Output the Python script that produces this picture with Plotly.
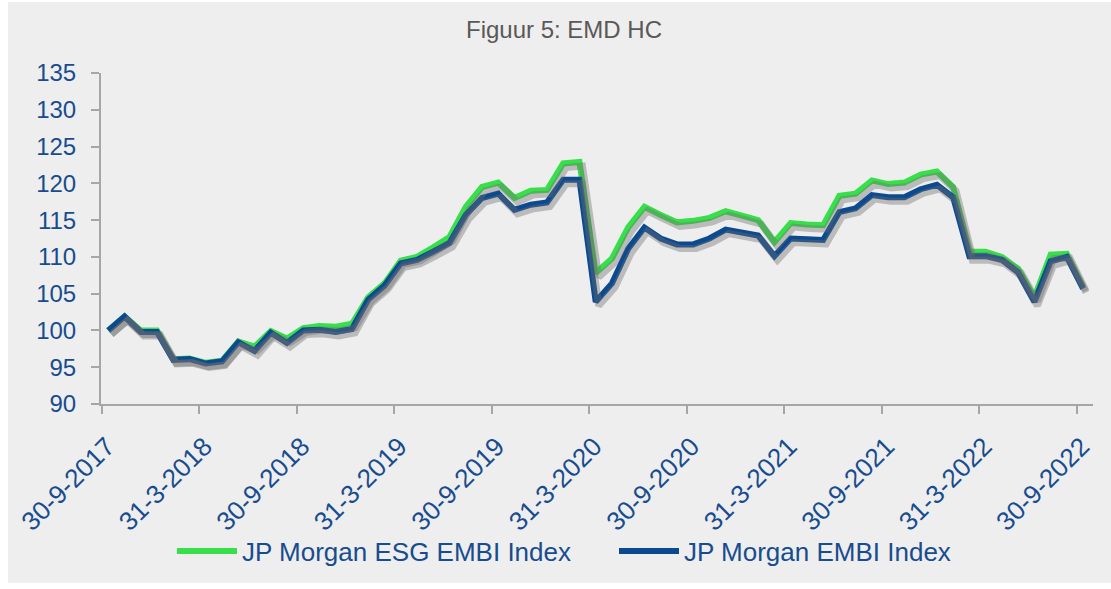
import plotly.graph_objects as go
import pandas as pd

# ---- data ----
dates = pd.date_range("2017-09-30", "2022-09-30", freq="ME")
esg_embi = [100.0, 101.9, 100.0, 100.0, 96.1, 96.2, 95.6, 95.9, 98.5, 97.8, 99.9, 98.9, 100.3, 100.6, 100.5,
            100.9, 104.5, 106.4, 109.5, 110.0, 111.3, 112.7, 116.8, 119.5, 120.1, 118.0, 119.0, 119.1, 122.7, 122.9,
            107.8, 109.8, 114.0, 116.8, 115.7, 114.7, 114.9, 115.3, 116.2, 115.7, 115.0, 112.0, 114.6, 114.4, 114.3,
            118.3, 118.6, 120.4, 119.9, 120.1, 121.2, 121.6, 119.5, 110.7, 110.7, 110.0, 108.4, 104.5, 110.3, 110.4, 105.9]
embi = [100.0, 101.9, 99.8, 99.8, 96.0, 96.1, 95.5, 95.8, 98.4, 97.2, 99.7, 98.3, 100.0, 100.1, 99.8,
        100.2, 104.2, 106.1, 109.1, 109.6, 110.7, 111.9, 115.7, 118.0, 118.6, 116.4, 117.1, 117.4, 120.5, 120.5,
        103.9, 106.4, 111.1, 114.0, 112.5, 111.7, 111.7, 112.5, 113.7, 113.4, 112.9, 110.1, 112.5, 112.4, 112.3,
        116.1, 116.6, 118.4, 118.1, 118.1, 119.2, 119.8, 118.1, 110.1, 110.1, 109.6, 107.9, 103.9, 109.4, 110.0, 105.7]
tick_labels = ["30-9-2017", "31-3-2018", "30-9-2018", "31-3-2019", "30-9-2019", "31-3-2020",
               "30-9-2020", "31-3-2021", "30-9-2021", "31-3-2022", "30-9-2022"]
series_names = ["JP Morgan ESG EMBI Index", "JP Morgan EMBI Index"]

# ---- layout constants ----
W, H = 1103, 581
L, R, T, B = 93, 18, 71, 179
GREEN = "#37E04A"
BLUE = "#0B4A90"
TXT = "#174C8E"
AXIS = "#A6A6A6"
BG = "#EEEEEE"

label_strs = [f"{d.day}-{d.month}-{d.year}" for d in dates]
xpos = [i + 0.39 for i in range(len(dates))]
tickvals = [label_strs.index(t) for t in tick_labels]

xr = [-0.06, 61.0]
yr = [90, 135]
plot_w = W - L - R
plot_h = H - T - B
px_x = (xr[1] - xr[0]) / plot_w
px_y = (yr[1] - yr[0]) / plot_h
sdx, sdy = 3, 4  # shadow offset in px

fig = go.Figure()
# soft shadows under the lines
for vals in (esg_embi, embi):
    fig.add_trace(go.Scatter(x=xpos, y=vals, mode="lines", xaxis="x2", yaxis="y2",
                             line=dict(color="rgba(110,110,110,0.40)", width=7),
                             showlegend=False, hoverinfo="skip"))
fig.add_trace(go.Scatter(x=xpos, y=esg_embi, mode="lines", name=series_names[0],
                         line=dict(color=GREEN, width=6)))
fig.add_trace(go.Scatter(x=xpos, y=embi, mode="lines", name=series_names[1],
                         line=dict(color=BLUE, width=6)))

font_main = "Liberation Sans, Arial, sans-serif"
legend_left = 164
fig.update_layout(
    width=W, height=H,
    margin=dict(l=L, r=R, t=T, b=B, autoexpand=False),
    paper_bgcolor=BG, plot_bgcolor=BG,
    font=dict(family=font_main, color=TXT),
    title=dict(text="Figuur 5: EMD HC", x=556 / W, xanchor="center", y=1 - 28 / H, yanchor="middle",
               font=dict(size=24, color="#595959", family=font_main)),
    xaxis=dict(range=xr, tickmode="array", tickvals=tickvals, ticktext=tick_labels,
               tickangle=-45, tickfont=dict(size=26, color=TXT), automargin=False,
               showgrid=False, zeroline=False, showline=True, linecolor=AXIS, linewidth=2,
               ticks="outside", ticklen=8, tickcolor=AXIS, tickwidth=2,
               ticklabelstandoff=7, ticklabelshift=5),
    yaxis=dict(range=yr, dtick=5, tickfont=dict(size=24, color=TXT), automargin=False,
               showgrid=False, zeroline=False, showline=True, linecolor=AXIS, linewidth=2,
               ticks="outside", ticklen=8, tickcolor=AXIS, tickwidth=2, ticklabelstandoff=10),
    xaxis2=dict(range=[xr[0] - sdx * px_x, xr[1] - sdx * px_x], overlaying="x", visible=False),
    yaxis2=dict(range=[yr[0] + sdy * px_y, yr[1] + sdy * px_y], overlaying="y", visible=False),
    legend=dict(orientation="h", x=(legend_left - L) / plot_w, xanchor="left",
                y=(T + plot_h - 549) / plot_h, yanchor="middle",
                font=dict(size=26, color=TXT), bgcolor="rgba(0,0,0,0)", itemwidth=60,
                entrywidth=367, traceorder="normal"),
    showlegend=True,
)
fig.write_html("out.html", post_script="document.body.style.margin='2px 0 0 8px';")
